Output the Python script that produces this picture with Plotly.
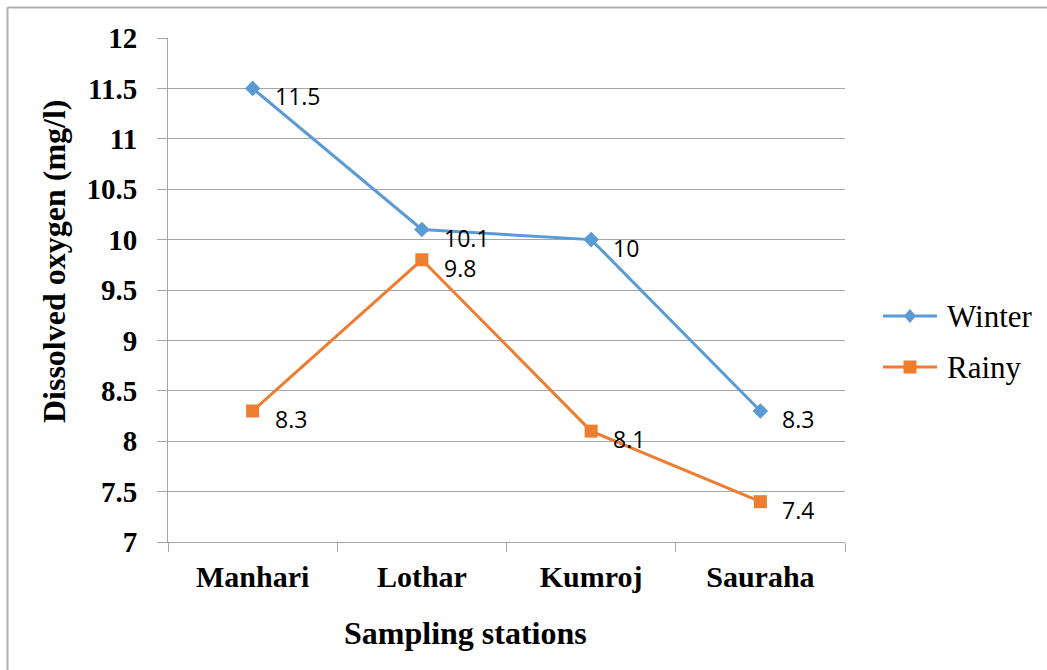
import plotly.graph_objects as go

stations = ["Manhari", "Lothar", "Kumroj", "Sauraha"]
winter = [11.5, 10.1, 10.0, 8.3]
rainy = [8.3, 9.8, 8.1, 7.4]
winter_labels = ["11.5", "10.1", "10", "8.3"]
rainy_labels = ["8.3", "9.8", "8.1", "7.4"]
y_ticks = [7, 7.5, 8, 8.5, 9, 9.5, 10, 10.5, 11, 11.5, 12]

BLUE = "#5B9BD5"
ORANGE = "#ED7D31"
GRID = "#A6A6A6"
SERIF = "Liberation Serif, Times New Roman, serif"
SANS = "Open Sans, Liberation Sans, sans-serif"

fig = go.Figure()
fig.add_trace(go.Scatter(
    x=stations, y=winter, name="Winter", mode="lines+markers",
    line=dict(color=BLUE, width=3),
    marker=dict(symbol="diamond", size=12, color=BLUE),
))
fig.add_trace(go.Scatter(
    x=stations, y=rainy, name="Rainy", mode="lines+markers",
    line=dict(color=ORANGE, width=3),
    marker=dict(symbol="square", size=13, color=ORANGE),
))

# value labels to the lower right of each point
for vals, labs in ((winter, winter_labels), (rainy, rainy_labels)):
    for s, v, t in zip(stations, vals, labs):
        fig.add_annotation(
            x=s, y=v, text=t, showarrow=False,
            xanchor="left", yanchor="middle", xshift=20, yshift=-8,
            font=dict(family=SANS, size=23, color="#000000"),
        )

# axis titles
fig.add_annotation(
    xref="paper", yref="paper", x=0.439, y=-0.18, text="<b>Sampling stations</b>",
    showarrow=False, xanchor="center", yanchor="middle",
    font=dict(family=SERIF, size=32, color="#000000"),
)
fig.add_annotation(
    xref="paper", yref="paper", x=-0.168, y=0.558, text="<b>Dissolved oxygen (mg/l)</b>",
    showarrow=False, xanchor="center", yanchor="middle", textangle=-90,
    font=dict(family=SERIF, size=32, color="#000000"),
)

# legend keys drawn beside the plot
legend_items = [("Winter", BLUE, "diamond", 0.4484), ("Rainy", ORANGE, "square", 0.3472)]
for name, col, sym, ly in legend_items:
    fig.add_shape(type="line", xref="paper", yref="paper",
                  x0=1.0561, x1=1.1359, y0=ly, y1=ly,
                  line=dict(color=col, width=3))
    if sym == "diamond":
        path = "M0,7 L6,0 L0,-7 L-6,0 Z"
    else:
        path = "M-6.5,-6.5 L6.5,-6.5 L6.5,6.5 L-6.5,6.5 Z"
    fig.add_shape(type="path", xref="paper", yref="paper",
                  xsizemode="pixel", ysizemode="pixel",
                  xanchor=1.096, yanchor=ly, path=path,
                  fillcolor=col, line=dict(color=col, width=0))
    fig.add_annotation(
        xref="paper", yref="paper", x=1.1477, y=ly, text=name,
        showarrow=False, xanchor="left", yanchor="middle",
        font=dict(family=SERIF, size=31, color="#000000"),
    )

# outer chart frame
fig.add_shape(type="line", xref="paper", yref="paper",
              x0=-0.2371, x1=1.31, y0=1.0605, y1=1.0605,
              line=dict(color="#AFAFAF", width=2))
fig.add_shape(type="line", xref="paper", yref="paper",
              x0=-0.2371, x1=-0.2371, y0=1.0605, y1=-0.27,
              line=dict(color="#AFAFAF", width=2))

fig.update_layout(
    width=1047, height=670,
    margin=dict(l=168, r=202, t=38, b=128),
    paper_bgcolor="white", plot_bgcolor="white",
    showlegend=False,
    xaxis=dict(
        type="category", range=[-0.5, 3.5],
        tickson="boundaries", ticks="outside", ticklen=9, tickcolor=GRID,
        showline=True, linecolor=GRID, linewidth=1, showgrid=False,
        tickvals=stations, ticktext=[f"<b>{s}</b>" for s in stations],
        tickfont=dict(family=SERIF, size=30, color="#000000"),
        ticklabelstandoff=8,
    ),
    yaxis=dict(
        range=[7, 12], tickvals=y_ticks,
        ticktext=[f"<b>{v:g}</b>" for v in y_ticks],
        ticks="outside", ticklen=10, tickcolor=GRID,
        showline=True, linecolor=GRID, linewidth=1,
        showgrid=True, gridcolor=GRID, gridwidth=1, zeroline=False,
        tickfont=dict(family=SERIF, size=29, color="#000000"),
        ticklabelstandoff=14,
    ),
)

fig.write_html("out.html")
